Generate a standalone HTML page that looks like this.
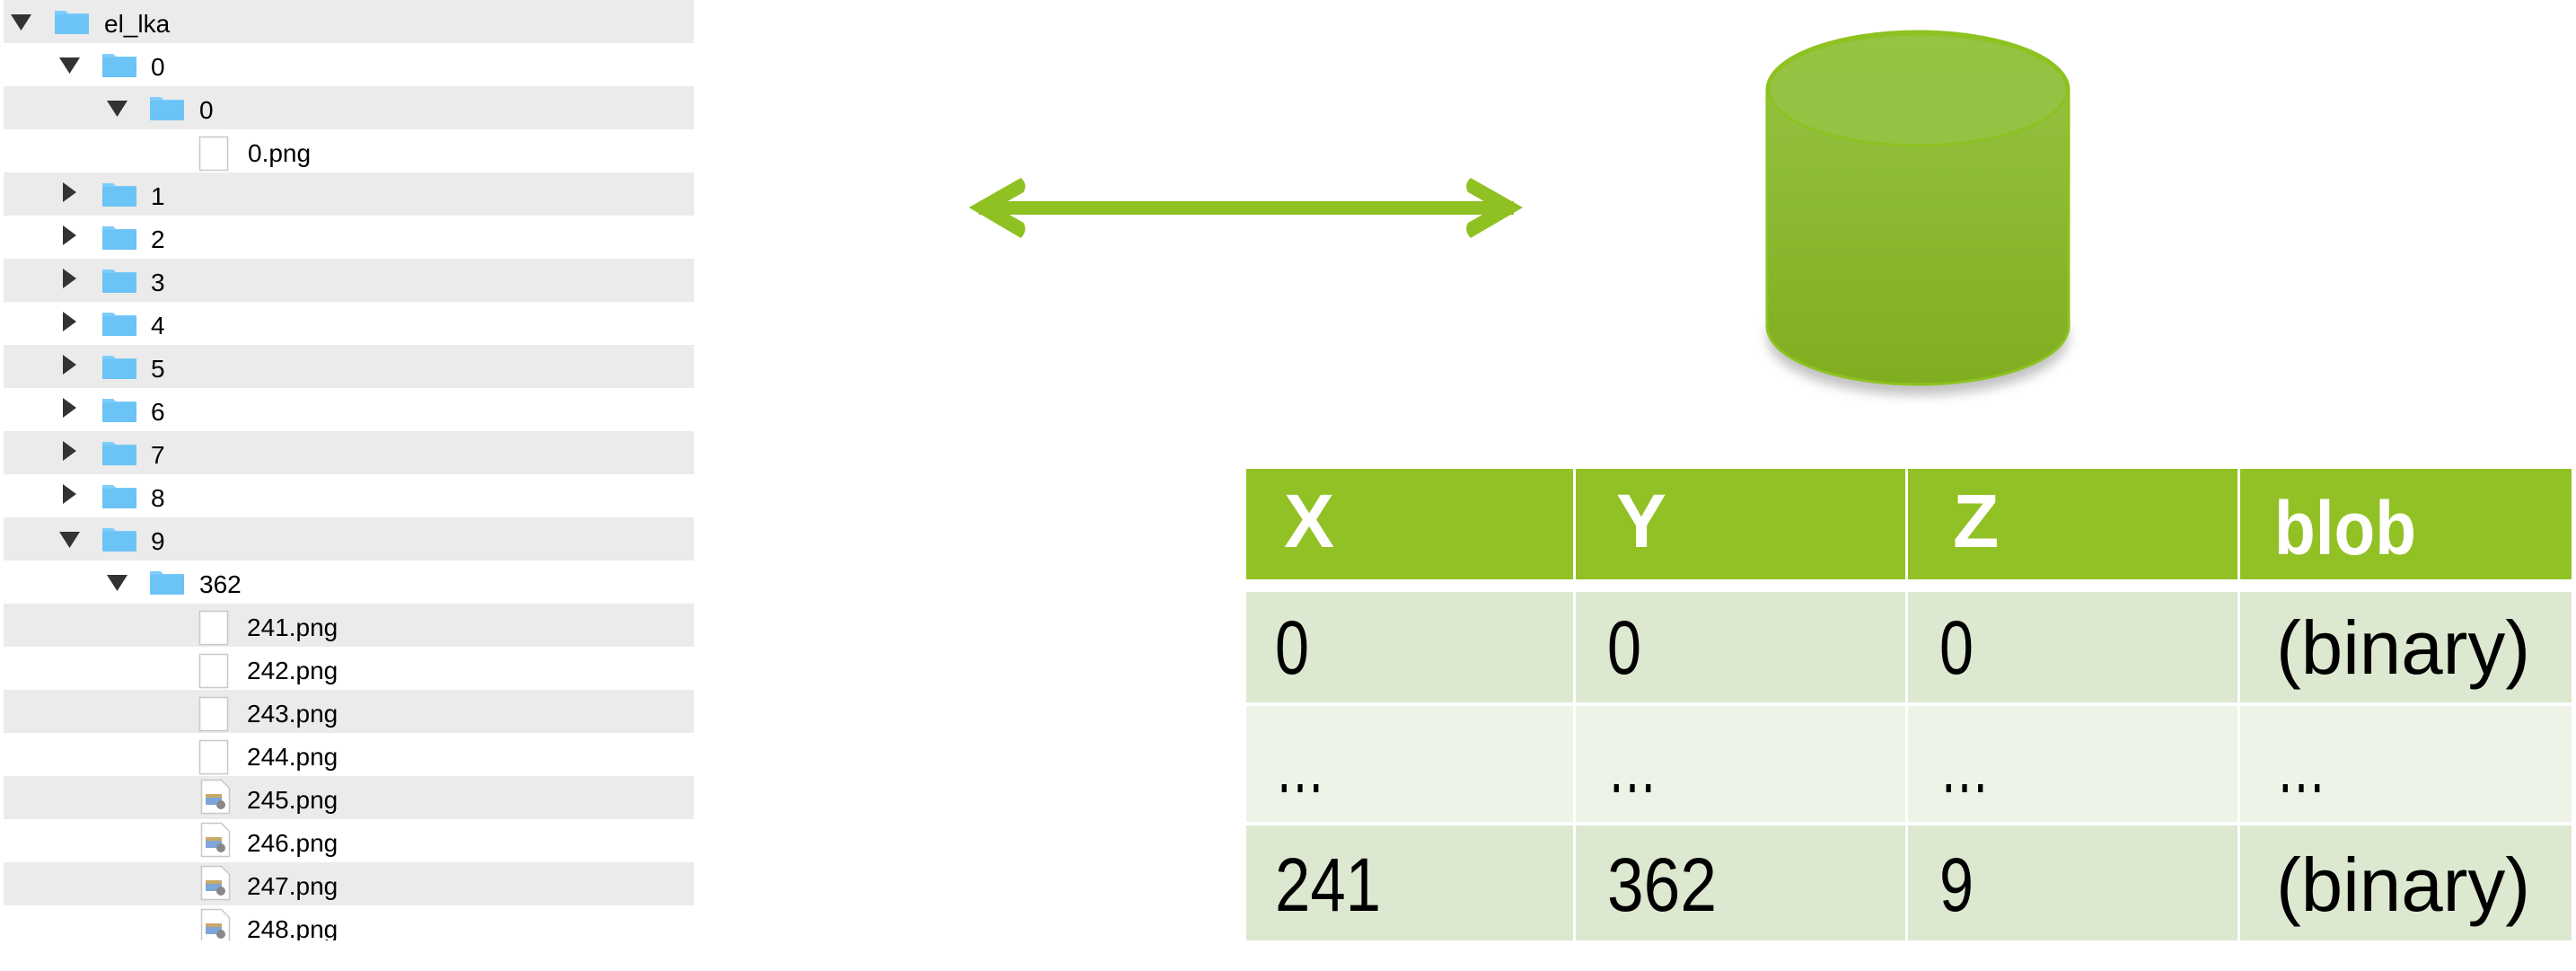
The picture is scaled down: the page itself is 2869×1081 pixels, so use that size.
<!DOCTYPE html>
<html><head><meta charset="utf-8"><style>
html,body{margin:0;padding:0;background:#fff;width:2869px;height:1081px;overflow:hidden}
svg{display:block}
</style></head><body>
<svg width="2869" height="1081" viewBox="0 0 2869 1081" xmlns="http://www.w3.org/2000/svg">
<defs>
<linearGradient id="cyl" x1="0" y1="0" x2="0" y2="1">
<stop offset="0" stop-color="#98c444"/><stop offset="1" stop-color="#80ad20"/>
</linearGradient>
<linearGradient id="fold" x1="0" y1="0" x2="0" y2="1">
<stop offset="0" stop-color="#7fcffa"/><stop offset="1" stop-color="#5fb8ef"/>
</linearGradient>
<filter id="sh" x="-20%" y="-20%" width="140%" height="140%"><feGaussianBlur stdDeviation="6"/></filter>
<g id="fd"><path d="M0 4 h12 l3 3 h23 v22 a1 1 0 0 1 -1 1 h-36 a1 1 0 0 1 -1 -1z" fill="url(#fold)"/><rect x="0" y="8" width="38" height="22" rx="1" fill="#6cc3f6"/></g>
<g id="dn"><polygon points="0,0 23,0 11.5,18" fill="#333"/></g>
<g id="rt"><polygon points="0,0 15,11 0,22" fill="#333"/></g>
<g id="fl"><rect x="0.5" y="0.5" width="31" height="37" fill="#fff" stroke="#c8c8c8" stroke-width="1.5"/></g>
<g id="fi"><path d="M0.5 0.5 h22 l9 9 v28 h-31z" fill="#fff" stroke="#c8c8c8" stroke-width="1.5"/><rect x="5" y="16" width="18" height="12" fill="#7fa6d8"/><rect x="5" y="16" width="18" height="4" fill="#c9a86a"/><circle cx="22" cy="28" r="5" fill="#888"/></g>
</defs>

<!-- tree stripes -->
<g fill="#ebebeb">
<rect x="4" y="0" width="769" height="48"/>
<rect x="4" y="96" width="769" height="48"/>
<rect x="4" y="192" width="769" height="48"/>
<rect x="4" y="288" width="769" height="48"/>
<rect x="4" y="384" width="769" height="48"/>
<rect x="4" y="480" width="769" height="48"/>
<rect x="4" y="576" width="769" height="48"/>
<rect x="4" y="672" width="769" height="48"/>
<rect x="4" y="768" width="769" height="48"/>
<rect x="4" y="864" width="769" height="48"/>
<rect x="4" y="960" width="769" height="48"/>
</g>

<g font-family="Liberation Sans, sans-serif" font-size="28" fill="#000">
<!-- row 0 -->
<use href="#dn" x="12" y="16"/><use href="#fd" x="61" y="8"/><text x="116" y="36">el_lka</text>
<use href="#dn" x="66" y="64"/><use href="#fd" x="114" y="56"/><text x="168" y="84">0</text>
<use href="#dn" x="119" y="112"/><use href="#fd" x="167" y="104"/><text x="222" y="132">0</text>
<use href="#fl" x="222" y="152"/><text x="276" y="180">0.png</text>
<use href="#rt" x="70" y="203"/><use href="#fd" x="114" y="200"/><text x="168" y="228">1</text>
<use href="#rt" x="70" y="251"/><use href="#fd" x="114" y="248"/><text x="168" y="276">2</text>
<use href="#rt" x="70" y="299"/><use href="#fd" x="114" y="296"/><text x="168" y="324">3</text>
<use href="#rt" x="70" y="347"/><use href="#fd" x="114" y="344"/><text x="168" y="372">4</text>
<use href="#rt" x="70" y="395"/><use href="#fd" x="114" y="392"/><text x="168" y="420">5</text>
<use href="#rt" x="70" y="443"/><use href="#fd" x="114" y="440"/><text x="168" y="468">6</text>
<use href="#rt" x="70" y="491"/><use href="#fd" x="114" y="488"/><text x="168" y="516">7</text>
<use href="#rt" x="70" y="539"/><use href="#fd" x="114" y="536"/><text x="168" y="564">8</text>
<use href="#dn" x="66" y="592"/><use href="#fd" x="114" y="584"/><text x="168" y="612">9</text>
<use href="#dn" x="119" y="640"/><use href="#fd" x="167" y="632"/><text x="222" y="660">362</text>
<use href="#fl" x="222" y="680"/><text x="275" y="708">241.png</text>
<use href="#fl" x="222" y="728"/><text x="275" y="756">242.png</text>
<use href="#fl" x="222" y="776"/><text x="275" y="804">243.png</text>
<use href="#fl" x="222" y="824"/><text x="275" y="852">244.png</text>
<use href="#fi" x="224" y="868"/><text x="275" y="900">245.png</text>
<use href="#fi" x="224" y="916"/><text x="275" y="948">246.png</text>
<use href="#fi" x="224" y="964"/><text x="275" y="996">247.png</text>
<svg x="0" y="1008" width="780" height="39" overflow="hidden"><use href="#fi" x="224" y="4"/><text x="275" y="36">248.png</text></svg>
</g>

<!-- arrow -->
<g fill="#8fc122">
<rect x="1090" y="224" width="596" height="15"/>
<path d="M1079 231 L1137 198 Q1145 205 1140 214 L1110 231 L1140 248 Q1145 257 1137 265 Z"/>
<path d="M1696 231 L1638 198 Q1630 205 1635 214 L1665 231 L1635 248 Q1630 257 1638 265 Z"/>
</g>

<!-- cylinder -->
<ellipse cx="2136" cy="375" rx="168" ry="65" fill="#999" opacity="0.6" filter="url(#sh)"/>
<path d="M1968 100 A168 65 0 0 1 2304 100 L2304 363 A168 65 0 0 1 1968 363 Z" fill="url(#cyl)" stroke="#8dc21f" stroke-width="3"/>
<ellipse cx="2136" cy="100" rx="166" ry="62" fill="#96c343" stroke="#8dc21f" stroke-width="3" opacity="0.9"/>

<!-- table -->
<g>
<rect x="1388" y="522" width="364" height="123" fill="#92c126"/>
<rect x="1755" y="522" width="367" height="123" fill="#92c126"/>
<rect x="2125" y="522" width="367" height="123" fill="#92c126"/>
<rect x="2495" y="522" width="369" height="123" fill="#92c126"/>
<rect x="1388" y="659" width="364" height="123" fill="#dce8cf"/>
<rect x="1755" y="659" width="367" height="123" fill="#dce8cf"/>
<rect x="2125" y="659" width="367" height="123" fill="#dce8cf"/>
<rect x="2495" y="659" width="369" height="123" fill="#dce8cf"/>
<rect x="1388" y="786" width="364" height="129" fill="#edf3e6"/>
<rect x="1755" y="786" width="367" height="129" fill="#edf3e6"/>
<rect x="2125" y="786" width="367" height="129" fill="#edf3e6"/>
<rect x="2495" y="786" width="369" height="129" fill="#edf3e6"/>
<rect x="1388" y="919" width="364" height="128" fill="#dce8cf"/>
<rect x="1755" y="919" width="367" height="128" fill="#dce8cf"/>
<rect x="2125" y="919" width="367" height="128" fill="#dce8cf"/>
<rect x="2495" y="919" width="369" height="128" fill="#dce8cf"/>
</g>
<g font-family="Liberation Sans, sans-serif" font-size="84" font-weight="bold" fill="#fff">
<text x="1430" y="609">X</text>
<text x="1800" y="609">Y</text>
<text x="2175" y="609">Z</text>
<text x="2533" y="617" textLength="158" lengthAdjust="spacingAndGlyphs">blob</text>
</g>
<g font-family="Liberation Sans, sans-serif" font-size="84" fill="#000">
<text x="1420" y="750" textLength="38" lengthAdjust="spacingAndGlyphs">0</text>
<text x="1790" y="750" textLength="38" lengthAdjust="spacingAndGlyphs">0</text>
<text x="2160" y="750" textLength="38" lengthAdjust="spacingAndGlyphs">0</text>
<text x="2535" y="750" textLength="283" lengthAdjust="spacingAndGlyphs">(binary)</text>
<text x="1420" y="882" textLength="56" lengthAdjust="spacingAndGlyphs">…</text>
<text x="1790" y="882" textLength="56" lengthAdjust="spacingAndGlyphs">…</text>
<text x="2160" y="882" textLength="56" lengthAdjust="spacingAndGlyphs">…</text>
<text x="2535" y="882" textLength="56" lengthAdjust="spacingAndGlyphs">…</text>
<text x="1420" y="1014" textLength="118" lengthAdjust="spacingAndGlyphs">241</text>
<text x="1790" y="1014" textLength="122" lengthAdjust="spacingAndGlyphs">362</text>
<text x="2160" y="1014" textLength="38" lengthAdjust="spacingAndGlyphs">9</text>
<text x="2535" y="1014" textLength="283" lengthAdjust="spacingAndGlyphs">(binary)</text>
</g>
</svg>
</body></html>
